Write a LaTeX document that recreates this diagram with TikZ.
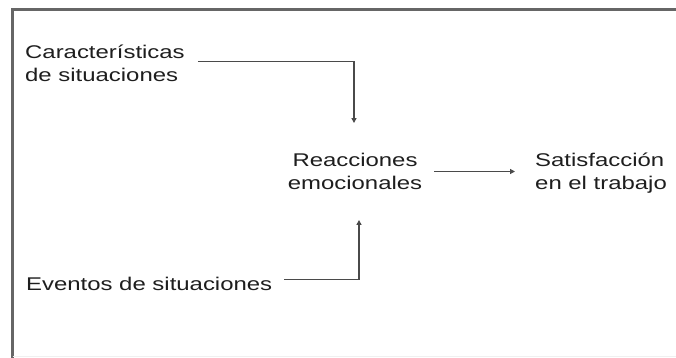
\documentclass[tikz,border=0pt]{standalone}
\usepackage{fontspec}
\setmainfont{Liberation Sans}
\usetikzlibrary{arrows.meta}
\definecolor{txt}{HTML}{1E1E1E}
\definecolor{ln}{HTML}{4A4A4A}
\definecolor{frm}{HTML}{666666}
\newcommand{\sx}[1]{\scalebox{1.3}[1]{#1}}
\begin{document}
\begin{tikzpicture}[x=1pt,y=-1pt,
  lbl/.style={font=\fontsize{18.4}{23}\selectfont, text=txt, inner sep=0pt},
  conn/.style={draw=ln, line width=1.3pt, -{Triangle[length=5pt,width=5pt]}},
  frame/.style={draw=frm, line width=2.2pt}]
\useasboundingbox (0,0) rectangle (676,358);
\fill[white] (0,0) rectangle (676,358);
\draw[frame] (680,9.5) -- (12.5,9.5) -- (12.5,362);
\draw[draw=gray!12, line width=1pt] (12.5,356) -- (680,356);

\node[lbl, anchor=west, align=left] (car) at (25,63.5) {\sx{Características}\\\sx{de situaciones}};
\node[lbl, align=center, inner xsep=12pt, inner ysep=30pt] (reac) at (355,171.5) {\sx{Reacciones}\\\sx{emocionales}};
\node[lbl, anchor=west, align=left, inner xsep=20pt] (sat) at (515,173.5) {\sx{Satisfacción}\\\sx{en el trabajo}};
\node[lbl, anchor=west] (eve) at (26,283.5) {\sx{Eventos de situaciones}};

\draw[conn] ([xshift=13pt,yshift=1.8pt]car.east) -| ([xshift=-1pt]reac.north);
\draw[conn] ([xshift=12pt,yshift=4pt]eve.east) -| ([xshift=4pt]reac.south);
\draw[conn] (reac.east) -- (reac.east -| sat.west);
\end{tikzpicture}
\end{document}
